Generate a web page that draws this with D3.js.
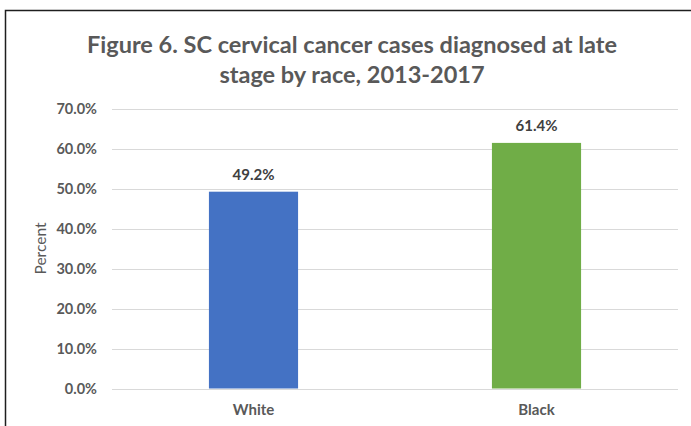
<!DOCTYPE html>
<html>
<head>
<meta charset="utf-8">
<script src="https://cdn.jsdelivr.net/npm/d3@7"></script>
<style>
  html, body { margin: 0; padding: 0; background: #fff; }
  svg { display: block; }
  text { font-family: Lato, "Open Sans", sans-serif; }
</style>
</head>
<body>
<div id="chart"></div>
<script>
// Late-stage cervical cancer diagnoses by race, SC 2013-2017
const categories = ["White", "Black"];
const values = [49.2, 61.4];
const barColors = ["#4472C4", "#70AD47"];
const yTicks = [0, 10, 20, 30, 40, 50, 60, 70];
const titleLines = [
  "Figure 6. SC cervical cancer cases diagnosed at late",
  "stage by race, 2013-2017"
];
const yAxisTitle = "Percent";

const width = 691, height = 426;
const plot = { left: 112, right: 678, top: 108.5, bottom: 388.5 };

const svg = d3.select("#chart").append("svg")
  .attr("width", width).attr("height", height);

// chart frame
svg.append("rect")
  .attr("x", 5.5).attr("y", 10.5)
  .attr("width", 720).attr("height", 460)
  .attr("fill", "#fff")
  .attr("stroke", "#1e1e1e").attr("stroke-width", 1.5);

// title
const title = svg.append("text")
  .attr("text-anchor", "middle")
  .attr("fill", "#595959")
  .attr("font-weight", "bold")
  .attr("font-size", 23.5);
titleLines.forEach((t, i) => {
  title.append("tspan").attr("x", 352).attr("y", 53 + i * 30).text(t);
});

const x = d3.scaleBand()
  .domain(categories)
  .range([plot.left, plot.right])
  .paddingInner(0.685)
  .paddingOuter(0.3425)
  .align(0.5);

const y = d3.scaleLinear()
  .domain([0, 70])
  .range([plot.bottom, plot.top]);

// gridlines
svg.append("g")
  .selectAll("line")
  .data(yTicks)
  .join("line")
  .attr("x1", plot.left).attr("x2", plot.right)
  .attr("y1", d => Math.round(y(d)) + 0.5)
  .attr("y2", d => Math.round(y(d)) + 0.5)
  .attr("stroke", "#d9d9d9").attr("stroke-width", 1);

// y axis labels
const yAxis = d3.axisLeft(y)
  .tickValues(yTicks)
  .tickFormat(d => d3.format(".1f")(d) + "%")
  .tickSize(0)
  .tickPadding(0);
const yg = svg.append("g")
  .attr("transform", `translate(${plot.left - 15},0)`)
  .call(yAxis);
yg.select(".domain").remove();
yg.selectAll("text")
  .attr("font-family", "Lato, 'Open Sans', sans-serif")
  .attr("font-size", 14.5)
  .attr("font-weight", "bold")
  .attr("fill", "#595959")
  .attr("dy", "0.35em");

// y axis title
svg.append("text")
  .attr("transform", `translate(46,${(plot.top + plot.bottom) / 2}) rotate(-90)`)
  .attr("text-anchor", "middle")
  .attr("font-size", 15.5)
  .attr("fill", "#595959")
  .text(yAxisTitle);

// bars
svg.append("g")
  .selectAll("rect")
  .data(categories)
  .join("rect")
  .attr("x", d => x(d))
  .attr("width", x.bandwidth())
  .attr("y", (d, i) => y(values[i]))
  .attr("height", (d, i) => y(0) - y(values[i]))
  .attr("fill", (d, i) => barColors[i]);

// value labels
svg.append("g")
  .selectAll("text")
  .data(categories)
  .join("text")
  .attr("x", d => x(d) + x.bandwidth() / 2)
  .attr("y", (d, i) => y(values[i]) - 12)
  .attr("text-anchor", "middle")
  .attr("font-size", 15)
  .attr("font-weight", "bold")
  .attr("fill", "#404040")
  .text((d, i) => d3.format(".1f")(values[i]) + "%");

// x axis labels
const xAxis = d3.axisBottom(x).tickSize(0).tickPadding(0);
const xg = svg.append("g")
  .attr("transform", `translate(0,${plot.bottom + 26})`)
  .call(xAxis);
xg.select(".domain").remove();
xg.selectAll("text")
  .attr("font-family", "Lato, 'Open Sans', sans-serif")
  .attr("font-size", 15)
  .attr("font-weight", "bold")
  .attr("fill", "#595959")
  .attr("dy", 0);
</script>
</body>
</html>
